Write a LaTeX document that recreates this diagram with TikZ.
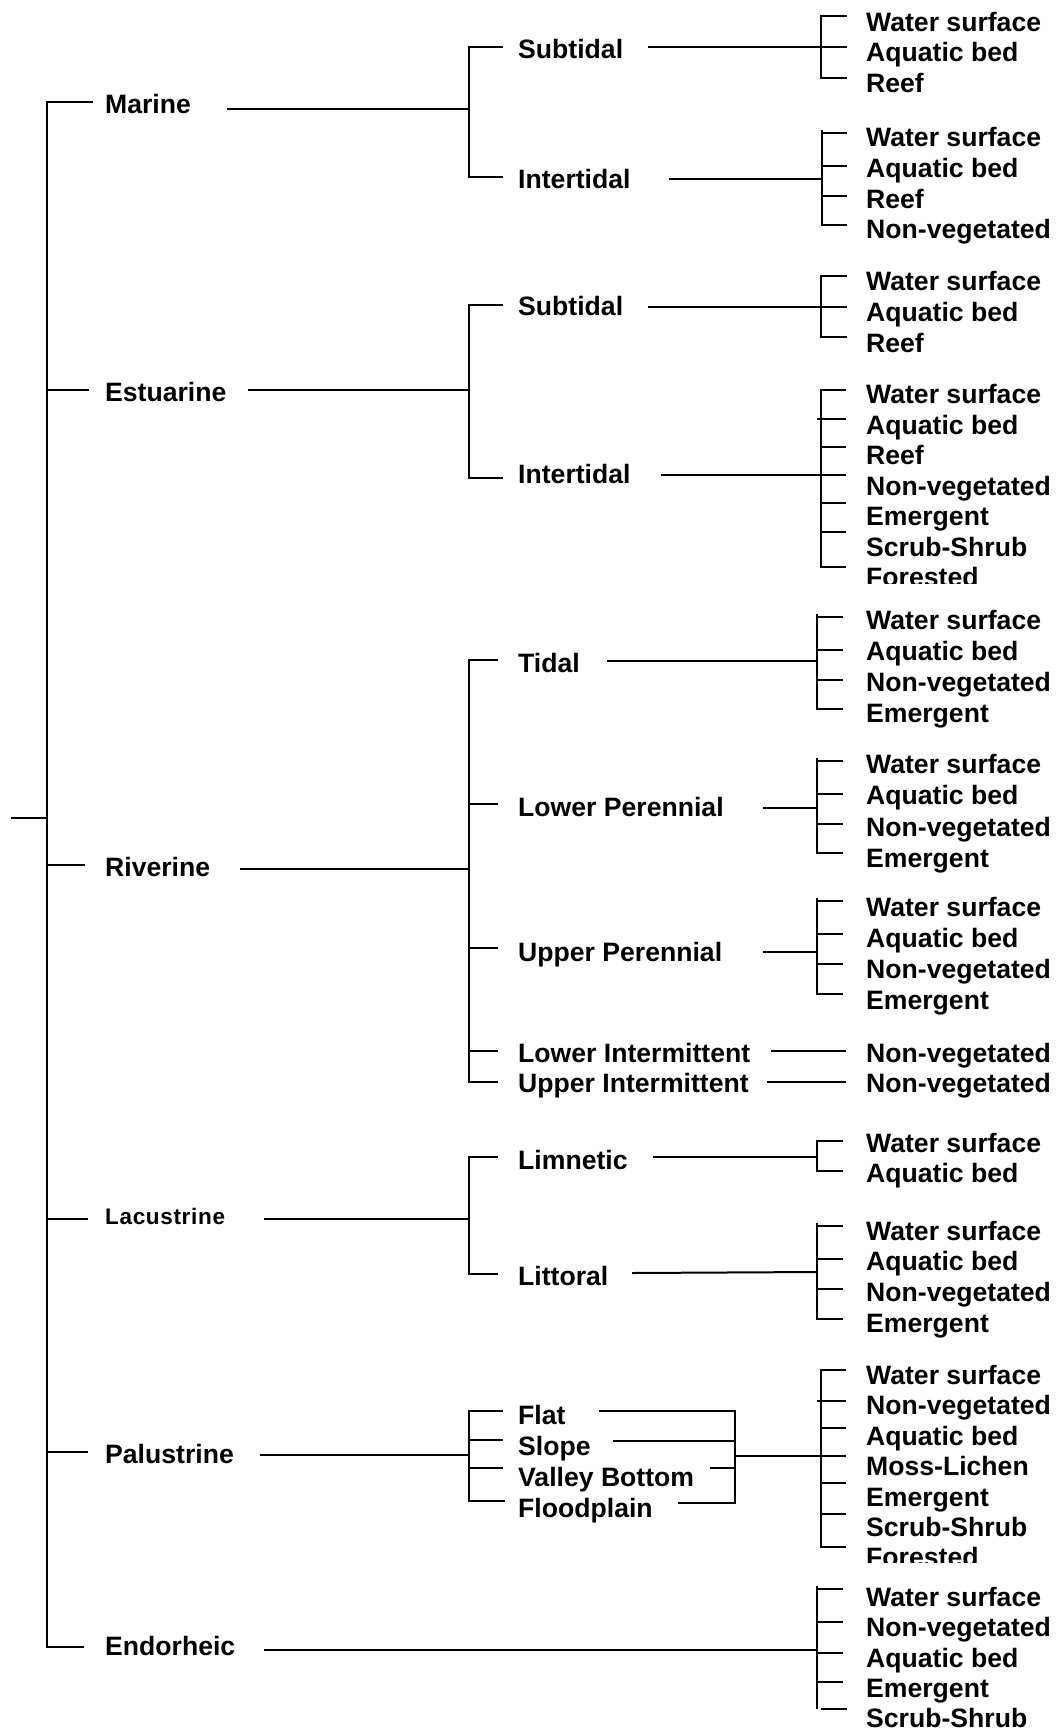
\documentclass[tikz,border=0pt]{standalone}
\usepackage{fontspec}
\setmainfont{Liberation Sans}
% list of class labels: #1 prefix, #2 centre of first row, #3 row pitch, #4 items
\newcommand\leafrows[4]{%
  \foreach \lf [count=\i from 0] in {#4}{%
    \node[lab] (#1-\i) at (866,{#2+\i*#3+9.5}) {\lf};}}
% bracket: #1 spine x, #2 tick end x, #3 top y, #4 bottom y
\newcommand\bracket[4]{\draw[wire] (#2,#3) -- (#1,#3) -- (#1,#4) -- (#2,#4);}
% single tick: #1 from x, #2 to x, #3 y
\newcommand\tick[3]{\draw[wire] (#1,#3) -- (#2,#3);}
\begin{document}
\begin{tikzpicture}[x=1pt,y=-1pt,
  wire/.style={line width=2pt},
  lab/.style={anchor=base west, inner sep=0pt,
    font=\fontsize{26.6}{30}\selectfont\bfseries},
  labsmall/.style={anchor=base west, inner sep=0pt,
    font=\fontsize{22.5}{26}\selectfont\bfseries\addfontfeature{LetterSpace=3}}]
\useasboundingbox (0,0) rectangle (1057,1731);

% ---------- root ----------
\coordinate (root) at (11,818);
\coordinate (rootj) at (47,818);
\draw[wire] (root) -- (rootj);
\draw[wire] (93,102) -- (47,102) -- (47,1647) -- (84,1647);
\tick{47}{89}{389.5}
\tick{47}{85}{865}
\tick{47}{88}{1219}
\tick{47}{88}{1452}

% ---------- systems ----------
\node[lab] (marine) at (105,104+9.5) {Marine};
\node[lab] (estuarine) at (105,392+9.5) {Estuarine};
\node[lab] (riverine) at (105,867+9.5) {Riverine};
\node[labsmall] (lacustrine) at (105,1216+8) {Lacustrine};
\node[lab] (palustrine) at (105,1454+9.5) {Palustrine};
\node[lab] (endorheic) at (105,1646+9.5) {Endorheic};

% ---------- Marine ----------
\coordinate (mar-o) at (227,109); \coordinate (mar-j) at (469,109);
\draw[wire] (mar-o) -- (mar-j);
\bracket{469}{503}{47.5}{177.5}
\node[lab] (mar-sub) at (518,48.6+9.5) {Subtidal};
\node[lab] (mar-int) at (518,179+9.5) {Intertidal};

\coordinate (ms-o) at (648,47); \coordinate (ms-j) at (821,47);
\draw[wire] (ms-o) -- (ms-j);
\bracket{821}{847}{16}{78}
\tick{821}{847}{47}
\leafrows{ms}{22}{30.5}{Water surface,Aquatic bed,Reef}

\coordinate (mi-o) at (669,179); \coordinate (mi-j) at (822,179);
\draw[wire] (mi-o) -- (mi-j);
\bracket{822}{847}{133}{225}
\draw[wire] (822,133) -- (822,130);
\tick{822}{847}{166}
\tick{822}{847}{196}
\leafrows{mi}{137}{30.8}{Water surface,Aquatic bed,Reef,Non-vegetated}

% ---------- Estuarine ----------
\coordinate (est-o) at (248,389.5); \coordinate (est-j) at (469,389.5);
\draw[wire] (est-o) -- (est-j);
\bracket{469}{503}{305}{478}
\node[lab] (est-sub) at (518,306+9.5) {Subtidal};
\node[lab] (est-int) at (518,474+9.5) {Intertidal};

\coordinate (es-o) at (648,307); \coordinate (es-j) at (821,307);
\draw[wire] (es-o) -- (es-j);
\bracket{821}{847}{276}{337}
\tick{821}{847}{307}
\leafrows{es}{281}{31}{Water surface,Aquatic bed,Reef}

\coordinate (ei-o) at (661,475); \coordinate (ei-j) at (846,475);
\draw[wire] (ei-o) -- (ei-j);
\bracket{821}{846}{390}{567}
\tick{817}{846}{419}
\tick{821}{846}{447}
\tick{821}{846}{503}
\tick{821}{846}{532}
\leafrows{ei}{394}{30.5}{Water surface,Aquatic bed,Reef,Non-vegetated,Emergent,Scrub-Shrub}
\begin{scope}
  \clip (850,540) rectangle (1057,583);
  \node[lab] (ei-6) at (866,577+9.5) {Forested};
\end{scope}

% ---------- Riverine ----------
\coordinate (riv-o) at (240,869); \coordinate (riv-j) at (469,869);
\draw[wire] (riv-o) -- (riv-j);
\bracket{469}{498}{660}{1082}
\tick{469}{498}{804}
\tick{469}{498}{948}
\tick{469}{498}{1051}
\node[lab] (riv-td) at (518,663+9.5) {Tidal};
\node[lab] (riv-lp) at (518,807+9.5) {Lower Perennial};
\node[lab] (riv-up) at (518,952+9.5) {Upper Perennial};
\node[lab] (riv-li) at (518,1053+9.5) {Lower Intermittent};
\node[lab] (riv-ui) at (518,1083+9.5) {Upper Intermittent};

\coordinate (td-o) at (607,660.5); \coordinate (td-j) at (817,660.5);
\draw[wire] (td-o) -- (td-j);
\bracket{817}{843}{617}{709}
\draw[wire] (817,617) -- (817,614);
\tick{817}{843}{649.5}
\tick{817}{843}{679.5}
\leafrows{td}{620}{31}{Water surface,Aquatic bed,Non-vegetated,Emergent}

\coordinate (lp-o) at (763,808); \coordinate (lp-j) at (817,808);
\draw[wire] (lp-o) -- (lp-j);
\bracket{817}{843}{761}{852.5}
\draw[wire] (817,761) -- (817,758);
\tick{817}{843}{793.5}
\tick{817}{843}{823.5}
\leafrows{lp}{764.3}{31.1}{Water surface,Aquatic bed,Non-vegetated,Emergent}

\coordinate (up-o) at (763,951.5); \coordinate (up-j) at (817,951.5);
\draw[wire] (up-o) -- (up-j);
\bracket{817}{843}{901}{993.5}
\draw[wire] (817,901) -- (817,898);
\tick{817}{843}{934}
\tick{817}{843}{964}
\leafrows{up}{907.3}{31}{Water surface,Aquatic bed,Non-vegetated,Emergent}

\coordinate (li-o) at (771,1051); \coordinate (li-e) at (846,1051);
\draw[wire] (li-o) -- (li-e);
\node[lab] (li-0) at (866,1052.7+9.5) {Non-vegetated};
\coordinate (ui-o) at (767,1081.7); \coordinate (ui-e) at (846,1081.7);
\draw[wire] (ui-o) -- (ui-e);
\node[lab] (ui-0) at (866,1083.3+9.5) {Non-vegetated};

% ---------- Lacustrine ----------
\coordinate (lac-o) at (264,1219); \coordinate (lac-j) at (469,1219);
\draw[wire] (lac-o) -- (lac-j);
\bracket{469}{498}{1157}{1274}
\node[lab] (lac-lim) at (518,1160+9.5) {Limnetic};
\node[lab] (lac-lit) at (518,1276+9.5) {Littoral};

\coordinate (lm-o) at (653,1157); \coordinate (lm-j) at (817,1157);
\draw[wire] (lm-o) -- (lm-j);
\bracket{817}{843}{1141}{1171}
\leafrows{lm}{1143}{30}{Water surface,Aquatic bed}

\coordinate (lt-o) at (632,1273); \coordinate (lt-j) at (817,1272);
\draw[wire] (lt-o) -- (lt-j);
\bracket{817}{843}{1226}{1319}
\draw[wire] (817,1226) -- (817,1223);
\tick{816}{843}{1259}
\tick{817}{843}{1289}
\leafrows{lt}{1230.5}{30.8}{Water surface,Aquatic bed,Non-vegetated,Emergent}

% ---------- Palustrine ----------
\coordinate (pal-o) at (260,1455); \coordinate (pal-j) at (469,1455);
\draw[wire] (pal-o) -- (pal-j);
\draw[wire] (503,1411) -- (469,1411) -- (469,1501) -- (505,1501);
\tick{469}{503}{1440}
\tick{469}{503}{1468}
\node[lab] (pal-fl) at (518,1415+9.5) {Flat};
\node[lab] (pal-sl) at (518,1446+9.5) {Slope};
\node[lab] (pal-vb) at (518,1477+9.5) {Valley Bottom};
\node[lab] (pal-fp) at (518,1508+9.5) {Floodplain};

\draw[wire] (599,1411) -- (735,1411) -- (735,1503) -- (678,1503);
\tick{613}{735}{1441}
\tick{710}{735}{1468}
\coordinate (pl-o) at (735,1456); \coordinate (pl-e) at (846,1456);
\draw[wire] (pl-o) -- (pl-e);
\bracket{821}{846}{1370}{1547}
\tick{817}{846}{1401}
\tick{821}{846}{1428}
\tick{821}{846}{1483}
\tick{821}{846}{1514}
\leafrows{pl}{1375}{30.4}{Water surface,Non-vegetated,Aquatic bed,Moss-Lichen,Emergent,Scrub-Shrub}
\begin{scope}
  \clip (850,1520) rectangle (1057,1562);
  \node[lab] (pl-6) at (866,1557+9.5) {Forested};
\end{scope}

% ---------- Endorheic ----------
\coordinate (end-o) at (264,1650); \coordinate (end-j) at (817,1650);
\draw[wire] (end-o) -- (end-j);
\draw[wire] (817,1586) -- (817,1709);
\tick{817}{843}{1589}
\tick{816}{843}{1622}
\tick{817}{843}{1653}
\tick{817}{843}{1682}
\tick{821}{847}{1709}
\leafrows{en}{1597}{30.3}{Water surface,Non-vegetated,Aquatic bed,Emergent,Scrub-Shrub}

\end{tikzpicture}
\end{document}
